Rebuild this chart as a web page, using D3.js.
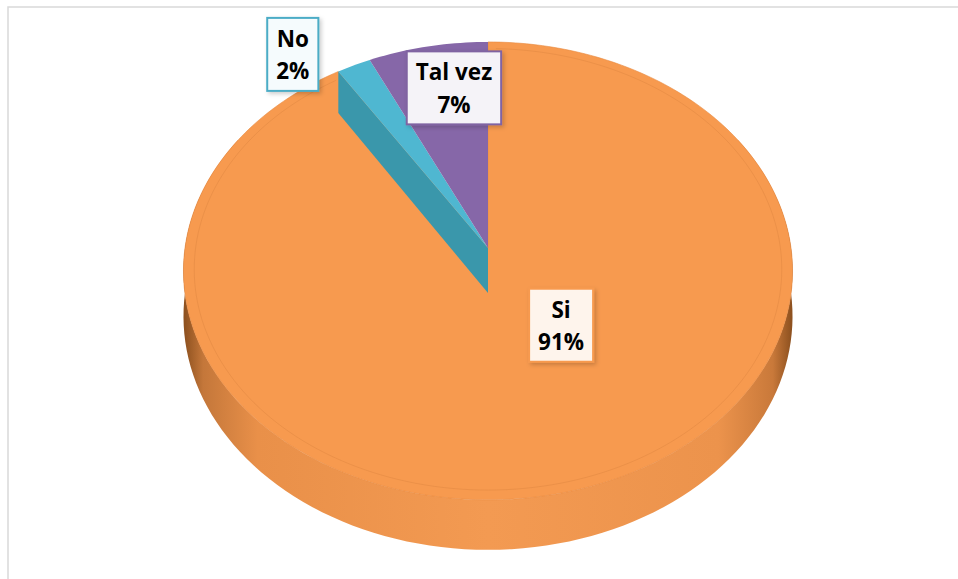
<!DOCTYPE html>
<html>
<head>
<meta charset="utf-8">
<script src="https://cdn.jsdelivr.net/npm/d3@7"></script>
<style>
  body { margin: 0; background: #fff; }
  svg { display: block; }
  text { font-family: "Open Sans", "Noto Sans", sans-serif; font-weight: 700; }
</style>
</head>
<body>
<svg id="chart"></svg>
<script>
// data
var categories = ["Si", "No", "Tal vez"]
var values = [91, 2, 7]
var topColors = ["#f79a4f", "#4fb7d1", "#8667a8"]
var wallColors = ["#e08a45", "#3a97ab", "#6f5493"]
var boxFills = ["#fef4ec", "#f5fbfd", "#f5f3f8"]
var boxBorders = ["#f79a4f", "#4bacc6", "#8064a2"]

var dimensions = { width: 958, height: 579 }

var svg = d3.select("#chart")
            .attr("width", dimensions.width)
            .attr("height", dimensions.height)

// chart area border (only top + left visible)
svg.append("rect")
   .attr("x", 8).attr("y", 7)
   .attr("width", 980).attr("height", 600)
   .attr("fill", "none")
   .attr("stroke", "#d9d9d9")
   .attr("stroke-width", 1.5)

// perspective projection of the pie disk
var cx = 488, cy = 248, r = 303, k = 0.748, p = 0.1 / 303, depth = 45

function project(theta, f, h){
    h = h || 0
    var X = f * r * Math.sin(theta)
    var Z = f * r * Math.cos(theta)
    var s = 1 / (1 + Z * p)
    return [cx + X * s, cy - Z * k * s + h * s]
}

var line = d3.line()

var pie = d3.pie().sort(null).value(d => d)
var arcs = pie(values)
var total = d3.sum(values)

var defs = svg.append("defs")

var grad = defs.append("linearGradient")
               .attr("id", "side")
               .attr("gradientUnits", "userSpaceOnUse")
               .attr("x1", cx - r).attr("x2", cx + r)
               .attr("y1", 0).attr("y2", 0)
var stops = [[0, "#8f5220"], [0.03, "#c4773a"], [0.12, "#e99049"], [0.5, "#f39a52"], [0.88, "#ec934c"], [0.97, "#c9793a"], [1, "#8f5220"]]
stops.forEach(function(s){
    grad.append("stop").attr("offset", s[0]).attr("stop-color", s[1])
})

var shadow = defs.append("filter").attr("id", "shadow")
                 .attr("x", "-20%").attr("y", "-20%").attr("width", "150%").attr("height", "150%")
shadow.append("feDropShadow")
      .attr("dx", 2).attr("dy", 2).attr("stdDeviation", 2)
      .attr("flood-color", "#000").attr("flood-opacity", 0.2)

// outer side wall (front part only is visible)
var sidePts = []
d3.range(60, 301, 2).forEach(function(a){ sidePts.push(project(a * Math.PI / 180, 1, 0)) })
d3.range(300, 59, -2).forEach(function(a){ sidePts.push(project(a * Math.PI / 180, 1, depth)) })
svg.append("path")
   .attr("d", line(sidePts) + "Z")
   .attr("fill", "url(#side)")

function slicePoints(d, f){
    var n = Math.max(4, Math.ceil((d.endAngle - d.startAngle) / 0.02))
    var pts = [project(0, 0)]
    for (var i = 0; i <= n; i++){
        pts.push(project(d.startAngle + (d.endAngle - d.startAngle) * i / n, f))
    }
    return pts
}

// big slice top first
svg.append("path")
   .attr("d", line(slicePoints(arcs[0], 1)) + "Z")
   .attr("fill", topColors[0])
   .attr("stroke", "#e8893f")
   .attr("stroke-width", 0.6)

// bevel line inside the big slice
var bevel = []
var n0 = 200
for (var i = 0; i <= n0; i++){
    var a = arcs[0].startAngle + 0.03 + (arcs[0].endAngle - arcs[0].startAngle - 0.06) * i / n0
    bevel.push(project(a, 0.965))
}
svg.append("path")
   .attr("d", line(bevel))
   .attr("fill", "none")
   .attr("stroke", "#c97533")
   .attr("stroke-opacity", 0.25)
   .attr("stroke-width", 1)

// radial wall of the small slice, seen on its left side
var wa = arcs[1].startAngle
var wall = [project(0, 0), project(wa, 1), project(wa, 1, depth), project(0, 0, depth)]
svg.append("path")
   .attr("d", line(wall) + "Z")
   .attr("fill", wallColors[1])

// small slices on top
svg.selectAll(".small")
   .data(arcs.slice(1))
   .enter()
   .append("path")
   .attr("class", "small")
   .attr("d", d => line(slicePoints(d, 1)) + "Z")
   .attr("fill", (d, i) => topColors[i + 1])

// data labels
var labelLayout = [
    { f: 0.3, dx: 47, dy: 10 },
    { f: 1.0, dx: -61, dy: -11 },
    { f: 0.8, dx: 15, dy: 4 }
]
var fmt = d3.format(".0%")

arcs.forEach(function(d, i){
    var mid = (d.startAngle + d.endAngle) / 2
    var c = project(mid, labelLayout[i].f)
    var lx = c[0] + labelLayout[i].dx
    var ly = c[1] + labelLayout[i].dy

    var g = svg.append("g")
    var box = g.append("rect")
               .attr("fill", boxFills[i])
               .attr("stroke", boxBorders[i])
               .attr("stroke-width", 2)
               .attr("filter", "url(#shadow)")
    var t1 = g.append("text")
              .attr("x", lx).attr("y", ly - 7.5)
              .attr("text-anchor", "middle")
              .attr("font-size", 22.5)
              .attr("fill", "#000")
              .text(categories[i])
    var t2 = g.append("text")
              .attr("x", lx).attr("y", ly + 25)
              .attr("text-anchor", "middle")
              .attr("font-size", 22.5)
              .attr("fill", "#000")
              .text(fmt(values[i] / total))
    var w = Math.max(t1.node().getComputedTextLength(), t2.node().getComputedTextLength()) + 18
    var h = 73
    box.attr("x", lx - w / 2).attr("y", ly - h / 2)
       .attr("width", w).attr("height", h)
})
</script>
</body>
</html>
